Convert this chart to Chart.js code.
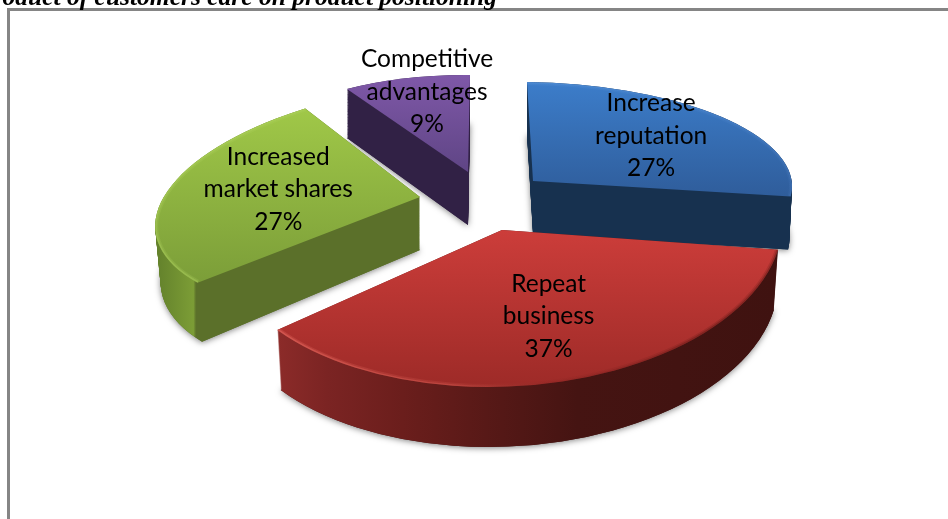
<!DOCTYPE html>
<html>
<head>
<meta charset="utf-8">
<style>
html,body{margin:0;padding:0;background:#fff;overflow:hidden}
#wrap{position:relative;width:948px;height:519px;overflow:hidden}
#frame{position:absolute;left:7px;top:8px;right:-5px;bottom:-5px;border-left:3px solid #858585;border-top:3px solid #858585}
canvas{position:absolute;left:0;top:0}
</style>
</head>
<body>
<div id="wrap"><div id="frame"></div><canvas id="c" width="948" height="519"></canvas></div>
<script src="https://cdn.jsdelivr.net/npm/chart.js@4/dist/chart.umd.min.js"></script>
<script>
const categories = ["Increase\nreputation", "Repeat\nbusiness", "Increased\nmarket shares", "Competitive\nadvantages"];
const shares = [27, 37, 27, 9];
const titleText = "Product of customers care on product positioning";
const baseColours = ["#3a78c3", "#c43a38", "#93bb42", "#76519e"];

// 3-D look: each exploded slice gets its own projection of the unit circle.
const views = [
  {o:[533,181], a:[259,3],   b:[6,99],     depth:53, taper:[.99,1],
   top:["#3c7dca","#2f5d9b"], side:[[0,"#17314f"],[1,"#17314f"]], gx:[527,791], gy:[82,196],
   bevel:[[0,"rgba(120,170,230,.35)"],[1,"rgba(90,140,210,.35)"]], label:[.467,-.47]},
  {o:[502,230], a:[280,0],   b:[-14,157],  depth:60, taper:[.985,1],
   top:["#cc3d3a","#9c2a27"], side:[[0,"#8c2b29"],[.1,"#7b2423"],[.25,"#6b1e1c"],[.45,"#541816"],[.6,"#451412"],[1,"#3f1210"]], gx:[277,778], gy:[230,392],
   bevel:[[0,"rgba(235,110,100,.85)"],[.35,"rgba(225,100,90,.55)"],[.55,"rgba(120,30,28,.25)"],[.85,"rgba(70,15,12,.55)"],[1,"rgba(70,15,12,.55)"]], label:[.194,.55]},
  {o:[420,197], a:[263,-16], b:[-31,115],  depth:53, taper:[.98,1.07],
   top:["#a0c848","#7a9c38"], side:[[0,"#62802b"],[.145,"#7c9d36"],[.155,"#5b702a"],[1,"#5b702a"]], gx:[155,420], gy:[108,290],
   bevel:[[0,"rgba(175,210,95,.7)"],[1,"rgba(175,210,95,.7)"]], label:[-.556,-.144]},
  {o:[468,172], a:[229,2],   b:[-2,97],    depth:53, taper:[1,1.05],
   top:["#7f58a8","#5f4585"], side:[[0,"#312145"],[1,"#312145"]], gx:[346,470], gy:[75,172],
   bevel:null, label:[-.186,-.82]}
];
const drawOrder = [3,0,2,1];
const labelFont = "24.5px Lato";
const labelLine = 32.5;

function slicePath(ctx, arc, v, dy, rimOnly){
  const p = arc.getProps(['x','y','startAngle','endAngle','outerRadius'], true);
  const R = p.outerRadius, t = v.depth ? dy / v.depth : 0;
  const sx = 1 + (v.taper[0]-1)*t, sy = 1 + (v.taper[1]-1)*t;
  ctx.save();
  ctx.translate(v.o[0], v.o[1] + dy);
  ctx.scale(sx, sy);
  ctx.transform(v.a[0]/R, v.a[1]/R, v.b[0]/R, v.b[1]/R, 0, 0);
  ctx.translate(-p.x, -p.y);
  ctx.beginPath();
  if(rimOnly){
    ctx.arc(p.x, p.y, R, p.startAngle, p.endAngle);
  } else {
    ctx.moveTo(p.x, p.y);
    ctx.arc(p.x, p.y, R, p.startAngle, p.endAngle);
    ctx.closePath();
  }
  ctx.restore();
}

const pie3d = {
  id:'pie3d',
  beforeDatasetsDraw(chart){
    const ctx = chart.ctx;
    const arcs = chart.getDatasetMeta(0).data;
    drawOrder.forEach(i=>{
      const v = views[i], arc = arcs[i];
      ctx.save();
      ctx.save();
      ctx.shadowColor = "rgba(0,0,0,.5)";
      ctx.shadowBlur = 6; ctx.shadowOffsetX = 0; ctx.shadowOffsetY = 1;
      slicePath(ctx, arc, v, v.depth);
      ctx.fillStyle = v.side[v.side.length-1][1];
      ctx.fill();
      ctx.restore();
      const sg = ctx.createLinearGradient(v.gx[0],0,v.gx[1],0);
      v.side.forEach(s=>sg.addColorStop(s[0],s[1]));
      ctx.fillStyle = sg;
      for(let d=v.depth; d>=0; d--){ slicePath(ctx, arc, v, d); ctx.fill(); }
      const tg = ctx.createLinearGradient(0,v.gy[0],0,v.gy[1]);
      tg.addColorStop(0,v.top[0]); tg.addColorStop(1,v.top[1]);
      ctx.fillStyle = tg;
      slicePath(ctx, arc, v, 0); ctx.fill();
      if(v.bevel){
        ctx.save();
        slicePath(ctx, arc, v, 0); ctx.clip();
        const bg = ctx.createLinearGradient(v.gx[0],0,v.gx[1],0);
        v.bevel.forEach(s=>bg.addColorStop(s[0],s[1]));
        ctx.strokeStyle = bg;
        slicePath(ctx, arc, v, 0, true);
        ctx.lineWidth = 3; ctx.globalAlpha = .55; ctx.stroke();
        ctx.lineWidth = 6; ctx.globalAlpha = .3; ctx.stroke();
        ctx.restore();
      }
      ctx.restore();
    });
    return false;
  },
  afterDraw(chart){
    const ctx = chart.ctx;
    ctx.save();
    ctx.fillStyle = "#000";
    ctx.font = labelFont;
    ctx.textAlign = "center";
    ctx.textBaseline = "middle";
    categories.forEach((c,i)=>{
      const v = views[i];
      const x = v.o[0] + v.a[0]*v.label[0] + v.b[0]*v.label[1];
      const y = v.o[1] + v.a[1]*v.label[0] + v.b[1]*v.label[1];
      const lines = c.split("\n").concat(shares[i] + "%");
      lines.forEach((t,k)=>ctx.fillText(t, x, y + (k-(lines.length-1)/2)*labelLine));
    });
    ctx.font = "italic bold 25.5px 'Liberation Serif'";
    ctx.textAlign = "right";
    ctx.textBaseline = "alphabetic";
    ctx.fillText(titleText, 497, 5);
    ctx.restore();
  }
};

new Chart(document.getElementById('c'), {
  type:'pie',
  data:{labels:categories.map(c=>c.replace("\n"," ")), datasets:[{data:shares, backgroundColor:baseColours, borderWidth:0}]},
  options:{
    responsive:false, animation:false, events:[],
    rotation:0,
    plugins:{legend:{display:false}, title:{display:false}, tooltip:{enabled:false}}
  },
  plugins:[pie3d]
});
</script>
</body>
</html>
